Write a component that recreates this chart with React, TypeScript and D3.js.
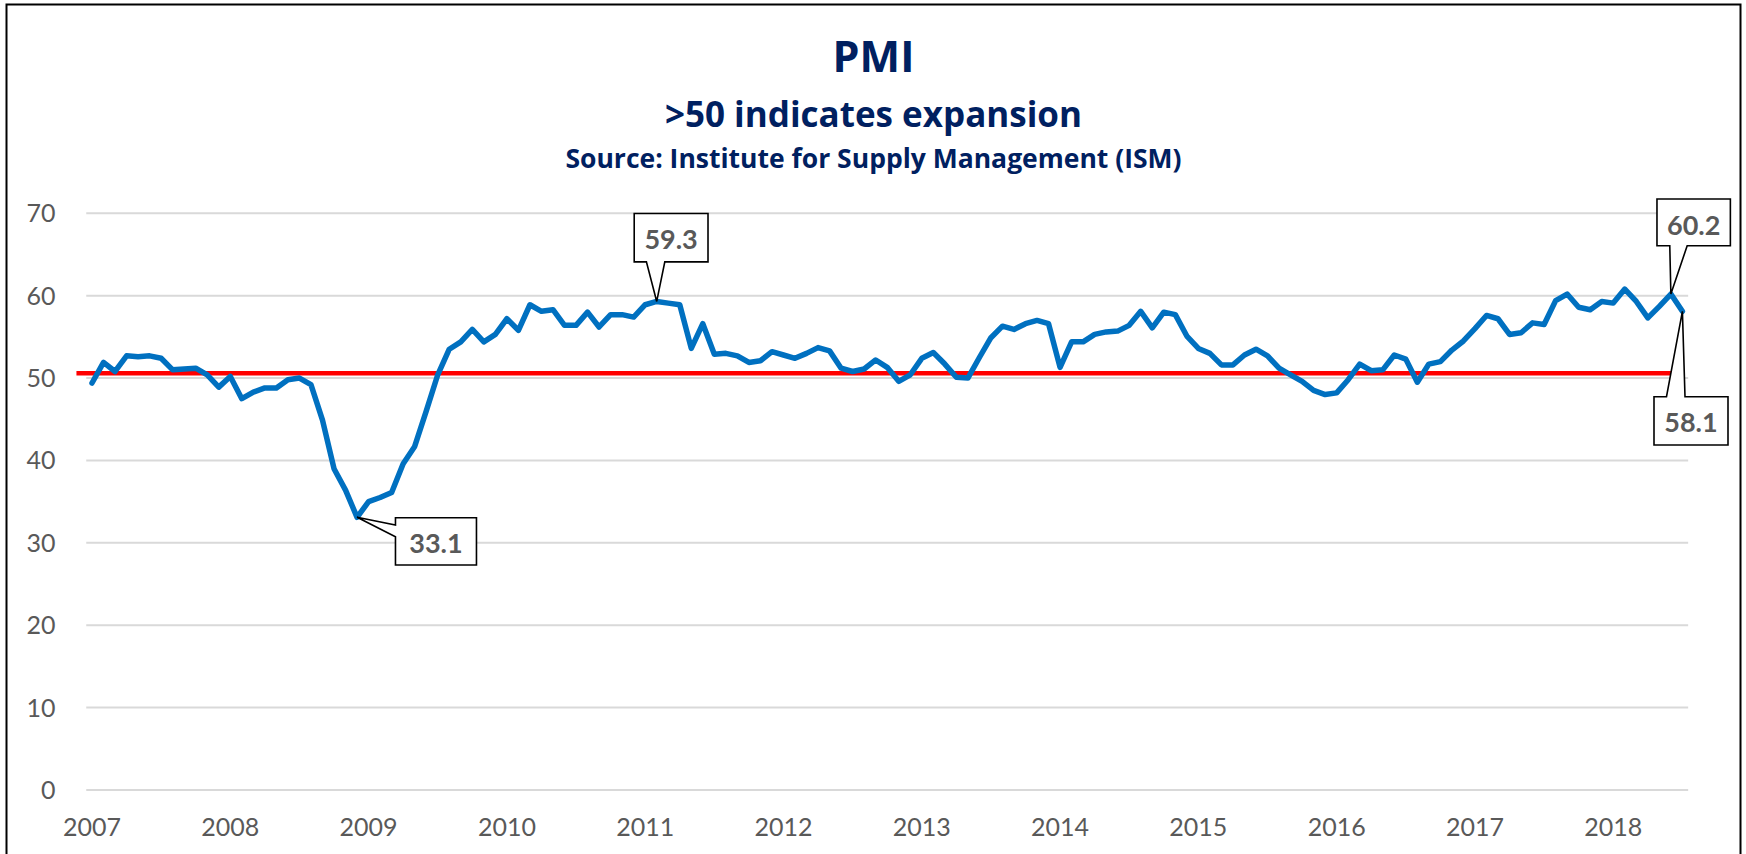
import React from 'react';
import * as d3 from 'd3';

const yearLabels = ['2007', '2008', '2009', '2010', '2011', '2012', '2013', '2014', '2015', '2016', '2017', '2018'];
const yTicks = [0, 10, 20, 30, 40, 50, 60, 70];

const pmi2007 = [49.4, 51.9, 50.8, 52.7, 52.6, 52.7, 52.4, 51.0, 51.1, 51.2, 50.4, 48.9];
const pmi2008 = [50.2, 47.5, 48.3, 48.8, 48.8, 49.8, 50.0, 49.2, 44.9, 39.0, 36.4, 33.1];
const pmi2009 = [35.0, 35.5, 36.1, 39.6, 41.7, 46.0, 50.4, 53.5, 54.4, 55.9, 54.4, 55.3];
const pmi2010 = [57.2, 55.8, 58.9, 58.1, 58.3, 56.4, 56.4, 58.0, 56.2, 57.7, 57.7, 57.4];
const pmi2011 = [58.9, 59.3, 59.1, 58.9, 53.6, 56.6, 52.9, 53.0, 52.7, 51.9, 52.1, 53.2];
const pmi2012 = [52.8, 52.4, 53.0, 53.7, 53.3, 51.2, 50.8, 51.1, 52.2, 51.3, 49.6, 50.4];
const pmi2013 = [52.4, 53.1, 51.7, 50.1, 50.0, 52.5, 54.9, 56.3, 55.9, 56.6, 57.0, 56.6];
const pmi2014 = [51.3, 54.4, 54.4, 55.3, 55.6, 55.7, 56.4, 58.1, 56.1, 58.0, 57.7, 55.1];
const pmi2015 = [53.6, 53.0, 51.6, 51.6, 52.8, 53.5, 52.7, 51.2, 50.4, 49.6, 48.5, 48.0];
const pmi2016 = [48.2, 49.8, 51.7, 50.9, 51.0, 52.8, 52.3, 49.5, 51.7, 52.0, 53.4, 54.5];
const pmi2017 = [56.0, 57.6, 57.2, 55.3, 55.5, 56.7, 56.5, 59.4, 60.2, 58.6, 58.3, 59.3];
const pmi2018 = [59.1, 60.8, 59.3, 57.3, 58.7, 60.2, 58.1];

const pmi = [
  ...pmi2007, ...pmi2008, ...pmi2009, ...pmi2010, ...pmi2011, ...pmi2012,
  ...pmi2013, ...pmi2014, ...pmi2015, ...pmi2016, ...pmi2017, ...pmi2018,
];

const thresholdValue = 50.6;

const annotations = [
  { index: 23, label: '33.1', side: 'left' },
  { index: 49, label: '59.3', side: 'bottom' },
  { index: 137, label: '60.2', side: 'bottom' },
  { index: 138, label: '58.1', side: 'top' },
];

// layout of callout boxes (relative to their data point)
const calloutLayout: Record<string, { dx: number; dy: number; w: number; h: number; b1: number; b2: number }> = {
  '33.1': { dx: 38.4, dy: 0.4, w: 81, h: 47.3, b1: 7.3, b2: 19 },
  '59.3': { dx: -22.5, dy: -88, w: 73.8, h: 48.4, b1: 12.2, b2: 30.6 },
  '60.2': { dx: -13.9, dy: -95, w: 73.4, h: 46.7, b1: 12.8, b2: 30.2 },
  '58.1': { dx: -28.4, dy: 85.4, w: 74, h: 48.3, b1: 12.5, b2: 31 },
};

const W = 1746;
const H = 854;
const FONT = 'Lato, "Open Sans", sans-serif';
const TITLE_FONT = '"Open Sans", "Noto Sans", sans-serif';
const TITLE_COLOR = '#002060';
const LABEL_COLOR = '#595959';

export default function App() {
  const x = d3.scaleLinear().domain([0, pmi.length - 1]).range([92, 1682.4]);
  const y = d3.scaleLinear().domain([0, 70]).range([790, 213.3]);

  const line = d3
    .line<number>()
    .x((_, i) => x(i))
    .y((d) => y(d));

  const gridX1 = x(-0.5);
  const gridX2 = x(pmi.length - 0.5);

  const calloutPath = (a: { index: number; label: string; side: string }) => {
    const px = x(a.index);
    const py = y(pmi[a.index]);
    const L = calloutLayout[a.label];
    const l = px + L.dx;
    const t = py + L.dy;
    const r = l + L.w;
    const b = t + L.h;
    if (a.side === 'left') {
      return `M${l},${t}H${r}V${b}H${l}V${t + L.b2}L${px},${py}L${l},${t + L.b1}Z`;
    }
    if (a.side === 'bottom') {
      return `M${l},${t}H${r}V${b}H${l + L.b2}L${px},${py}L${l + L.b1},${b}H${l}Z`;
    }
    return `M${l},${t}H${l + L.b1}L${px},${py}L${l + L.b2},${t}H${r}V${b}H${l}Z`;
  };

  return (
    <svg
      width={W}
      height={H}
      style={{ position: 'absolute', left: 0, top: 0, background: '#fff' }}
      fontFamily={FONT}
    >
      <rect x={6.5} y={4.5} width={1734} height={880} fill="#fff" stroke="#000" strokeWidth={2} />

      <g fontFamily={TITLE_FONT} fontWeight={700} fill={TITLE_COLOR} textAnchor="middle">
        <text x={873.5} y={71.7} fontSize={43}>
          PMI
        </text>
        <text x={873.5} y={126.5} fontSize={35}>
          {'>50 indicates expansion'}
        </text>
        <text x={873.5} y={168.3} fontSize={26.5}>
          Source: Institute for Supply Management (ISM)
        </text>
      </g>

      {yTicks.map((t) => (
        <g key={t}>
          <line x1={gridX1} x2={gridX2} y1={y(t)} y2={y(t)} stroke="#D9D9D9" strokeWidth={2} />
          <text x={55.5} y={y(t) + 9} textAnchor="end" fontSize={25} fill={LABEL_COLOR}>
            {t}
          </text>
        </g>
      ))}

      {yearLabels.map((lab, k) => (
        <text key={lab} x={x(k * 12)} y={835.5} textAnchor="middle" fontSize={25} fill={LABEL_COLOR}>
          {lab}
        </text>
      ))}

      <line
        x1={x(-1.35)}
        x2={x(pmi.length - 1)}
        y1={y(thresholdValue)}
        y2={y(thresholdValue)}
        stroke="#FF0000"
        strokeWidth={4.5}
      />

      <path
        d={line(pmi) || ''}
        fill="none"
        stroke="#0070C0"
        strokeWidth={5.5}
        strokeLinejoin="round"
        strokeLinecap="round"
      />

      {annotations.map((a) => {
        const px = x(a.index);
        const py = y(pmi[a.index]);
        const L = calloutLayout[a.label];
        const l = px + L.dx;
        const t = py + L.dy;
        return (
          <g key={a.label}>
            <path d={calloutPath(a)} fill="#fff" stroke="#000" strokeWidth={1.6} strokeLinejoin="miter" />
            <text
              x={l + L.w / 2}
              y={t + 35.5}
              textAnchor="middle"
              fontSize={27}
              fontWeight={700}
              fill={LABEL_COLOR}
            >
              {a.label}
            </text>
          </g>
        );
      })}
    </svg>
  );
}
